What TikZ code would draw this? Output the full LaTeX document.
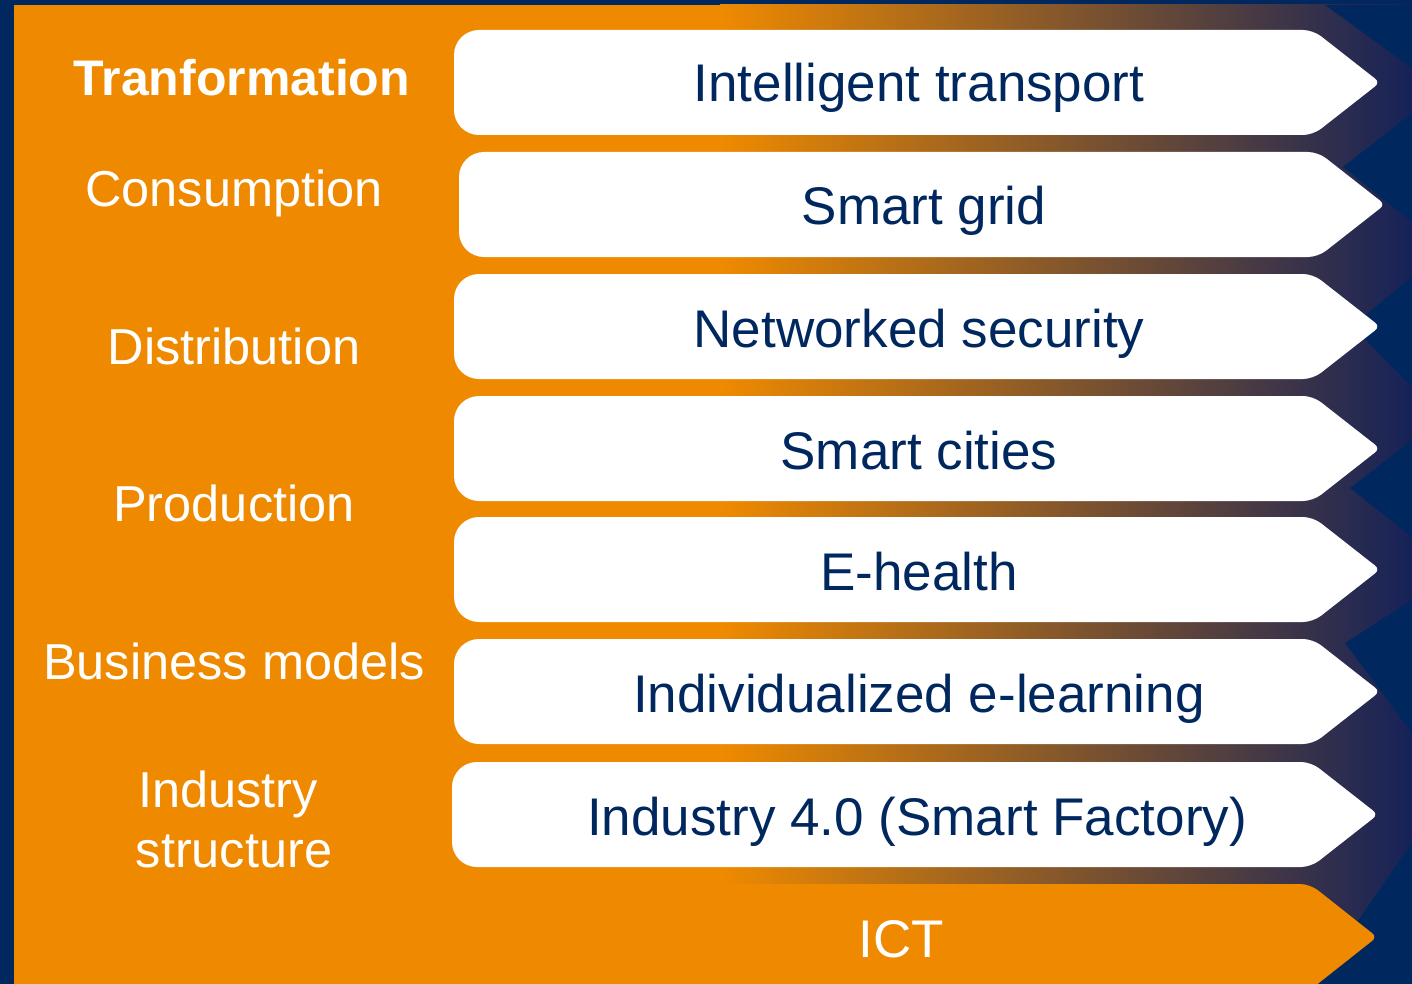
\documentclass[tikz,border=0pt]{standalone}
\usepackage{fontspec}
\setmainfont{Liberation Sans}
\definecolor{navy}{RGB}{0,40,94}
\definecolor{myorange}{RGB}{239,138,0}
\definecolor{gradend}{RGB}{22,34,88}
\tikzset{
  arrowtext/.style={text=navy, font=\fontsize{53}{60}\selectfont, inner sep=0pt, anchor=base},
  lefttext/.style={text=white, font=\fontsize{50.5}{60}\selectfont, inner sep=0pt, anchor=base},
  notch/.style={fill=navy},
}
\begin{document}
\begin{tikzpicture}[x=1pt,y=-1pt]
\useasboundingbox (0,0) rectangle (1412,984);
% background
\fill[navy] (0,0) rectangle (1412,984);
\fill[myorange] (14,5) rectangle (1412,984);
\shade[left color=myorange, right color=gradend] (720,5) rectangle (1412,984);
% dark notches on the right
\fill[notch] (1325,5) -- (1412,68) -- (1412,5) -- cycle;
\fill[notch] (1412,113) -- (1343,167) -- (1412,222) -- cycle;
\fill[notch] (1412,277) -- (1352,326) -- (1412,387) -- cycle;
\fill[notch] (1412,440) -- (1350,488) -- (1412,537) -- cycle;
\fill[notch] (1412,600) -- (1345,643) -- (1412,733) -- cycle;
\fill[notch] (1412,843) -- (1355,925) -- (1300,990) -- (1412,990) -- cycle;
% white chevrons
\foreach \L/\T/\Tip in {454/30/1380, 459/152/1385, 454/274/1380, 454/396/1380, 454/517/1380, 454/639/1380, 452/762/1378}{
  \fill[white] (\L,\T+52) [rounded corners=25pt] -- (\L,\T) [rounded corners=10pt] -- (\Tip-67,\T)
     [rounded corners=6pt] -- (\Tip,\T+52.5) [rounded corners=10pt] -- (\Tip-67,\T+105)
     [rounded corners=25pt] -- (\L,\T+105) -- cycle;
}
% ICT chevron
\fill[myorange] (440,884) [rounded corners=10pt] -- (1310,884) [rounded corners=6pt] -- (1377,937)
   [sharp corners] -- (1310,990) -- (440,990) -- cycle;
% texts in chevrons
\node[arrowtext] (a1) at (919,102) {Intelligent transport};
\node[arrowtext] (a2) at (924,225) {Smart grid};
\node[arrowtext] (a3) at (919,347) {Networked security};
\node[arrowtext] (a4) at (919,469) {Smart cities};
\node[arrowtext] (a5) at (919,590) {E-health};
\node[arrowtext] (a6) at (919,712) {Individualized e-learning};
\node[arrowtext] (a7) at (917,835) {Industry 4.0 (Smart Factory)};
\node[arrowtext, text=white] (ict) at (901,957) {ICT};
% left labels
\node[lefttext, font=\fontsize{50}{60}\selectfont\bfseries] (l0) at (242,96) {Tranformation};
\node[lefttext] (l1) at (234,207) {Consumption};
\node[lefttext] (l2) at (234,364) {Distribution};
\node[lefttext] (l3) at (234,521) {Production};
\node[lefttext] (l4) at (234,679) {Business models};
\node[lefttext] (l5) at (228,807) {Industry};
\node[lefttext] (l6) at (234,867) {structure};
\end{tikzpicture}
\end{document}
